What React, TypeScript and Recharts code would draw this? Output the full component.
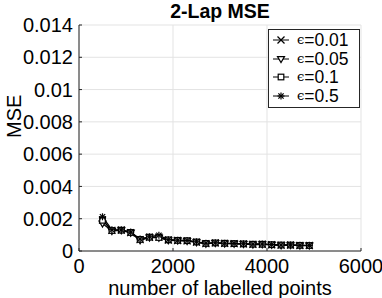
import { CartesianGrid, Line, LineChart, XAxis, YAxis } from 'recharts';

// MSE against the number of labelled points, one series per epsilon.
const sizes = [
  500, 700, 900, 1100, 1300, 1500, 1700, 1900, 2100, 2300, 2500, 2700,
  2900, 3100, 3300, 3500, 3700, 3900, 4100, 4300, 4500, 4700, 4900,
];

const eps001 = [
  0.00192, 0.00128, 0.0013, 0.00114, 0.0007, 0.00085, 0.00086, 0.00068, 0.00065, 0.00063,
  0.00055, 0.00046, 0.0005, 0.00047, 0.00046, 0.00044, 0.00041, 0.00042, 0.00039, 0.00036,
  0.00037, 0.00034, 0.00034,
];
const eps005 = [
  0.0017, 0.00124, 0.00128, 0.00112, 0.00066, 0.00083, 0.00082, 0.00066, 0.00064, 0.00062,
  0.00054, 0.00045, 0.00049, 0.00046, 0.00045, 0.00043, 0.0004, 0.00041, 0.00038, 0.00035,
  0.00036, 0.00033, 0.00033,
];
const eps01 = [
  0.0019, 0.00127, 0.00129, 0.00115, 0.00072, 0.00086, 0.00084, 0.00069, 0.00066, 0.00064,
  0.00056, 0.00047, 0.0005, 0.00048, 0.00046, 0.00044, 0.00042, 0.00042, 0.00039, 0.00037,
  0.00037, 0.00035, 0.00034,
];
const eps05 = [
  0.00212, 0.00132, 0.00131, 0.00117, 0.00074, 0.00088, 0.00098, 0.0007, 0.00067, 0.00065,
  0.00057, 0.00048, 0.00051, 0.00048, 0.00047, 0.00045, 0.00042, 0.00043, 0.0004, 0.00037,
  0.00038, 0.00035, 0.00035,
];

const xTicks = [0, 2000, 4000, 6000];
const yTicks = [0, 0.002, 0.004, 0.006, 0.008, 0.01, 0.012, 0.014];

const data = sizes.map((n, i) => ({
  n,
  e001: eps001[i],
  e005: eps005[i],
  e01: eps01[i],
  e05: eps05[i],
}));

const FONT = '"Liberation Sans", Arial, Helvetica, sans-serif';
const AXIS = '#262626';

type Shape = 'x' | 'tri' | 'sq' | 'star';

function Marker({ cx, cy, shape }: { cx: number; cy: number; shape: Shape }) {
  const r = 3.5;
  const s = { stroke: '#000', strokeWidth: 1.2, fill: 'none' };
  if (shape === 'x')
    return (
      <g {...s}>
        <line x1={cx - r} y1={cy - r} x2={cx + r} y2={cy + r} />
        <line x1={cx - r} y1={cy + r} x2={cx + r} y2={cy - r} />
      </g>
    );
  if (shape === 'tri')
    return (
      <polygon
        {...s}
        fill="#fff"
        points={`${cx - r},${cy - r * 0.7} ${cx + r},${cy - r * 0.7} ${cx},${cy + r}`}
      />
    );
  if (shape === 'sq')
    return <rect {...s} fill="#fff" x={cx - r * 0.8} y={cy - r * 0.8} width={r * 1.6} height={r * 1.6} />;
  return (
    <g {...s}>
      <line x1={cx - r} y1={cy} x2={cx + r} y2={cy} />
      <line x1={cx} y1={cy - r} x2={cx} y2={cy + r} />
      <line x1={cx - r * 0.75} y1={cy - r * 0.75} x2={cx + r * 0.75} y2={cy + r * 0.75} />
      <line x1={cx - r * 0.75} y1={cy + r * 0.75} x2={cx + r * 0.75} y2={cy - r * 0.75} />
    </g>
  );
}

const series: { key: string; name: string; shape: Shape }[] = [
  { key: 'e001', name: '=0.01', shape: 'x' },
  { key: 'e005', name: '=0.05', shape: 'tri' },
  { key: 'e01', name: '=0.1', shape: 'sq' },
  { key: 'e05', name: '=0.5', shape: 'star' },
];

// MATLAB style: labels outside, short tick marks pointing into the plot
function YTick({ x, y, payload }: any) {
  const ax = x + 6;
  return (
    <g>
      <line x1={ax} y1={y} x2={ax + 3} y2={y} stroke={AXIS} />
      <text x={x} y={y} dy="0.36em" textAnchor="end" fill="#000" fontSize={20} fontFamily={FONT}>
        {fmtY(payload.value)}
      </text>
    </g>
  );
}

function XTick({ x, y, payload }: any) {
  const ay = y - 8;
  return (
    <g>
      <line x1={x} y1={ay} x2={x} y2={ay - 3} stroke={AXIS} />
      <text x={x} y={y} dy="0.71em" textAnchor="middle" fill="#000" fontSize={20} fontFamily={FONT}>
        {payload.value}
      </text>
    </g>
  );
}

function LegendBox() {
  return (
    <div
      style={{
        position: 'absolute',
        left: 268,
        top: 29,
        border: `1px solid ${AXIS}`,
        background: '#fff',
        width: 90,
        padding: '1px 0 2px 0',
        fontFamily: FONT,
        fontSize: 17.5,
        lineHeight: '18.5px',
      }}
    >
      {series.map((s) => (
        <div key={s.key} style={{ display: 'flex', alignItems: 'center', height: 18.5 }}>
          <svg width={22} height={18} style={{ marginLeft: 3, marginRight: 3 }}>
            <line x1={1} y1={9} x2={17} y2={9} stroke="#000" strokeWidth={1} />
            <Marker cx={9} cy={9} shape={s.shape} />
          </svg>
          <span style={{ fontFamily: '"DejaVu Serif", serif', fontSize: 13 }}>ϵ</span>
          <span>{s.name}</span>
        </div>
      ))}
    </div>
  );
}

const fmtY = (v: number) => String(Number(v.toFixed(3)));

export default function App() {
  return (
    <div style={{ position: 'absolute', left: 0, top: 0, width: 382, height: 298, background: '#fff' }}>
      <LineChart
        width={382}
        height={298}
        data={data}
        margin={{ top: 25, right: 21, bottom: 0, left: 0 }}
        style={{ fontFamily: FONT }}
      >
        <CartesianGrid stroke="#e3e3e3" strokeWidth={1} />
        <XAxis
          dataKey="n"
          type="number"
          domain={[0, 6000]}
          ticks={xTicks}
          tickLine={false}
          stroke={AXIS}
          tick={<XTick />}
          tickMargin={2}
          label={{ value: 'number of labelled points', position: 'insideBottom', offset: 3, fill: '#000', fontSize: 20 }}
          height={47}
        />
        <YAxis
          type="number"
          domain={[0, 0.014]}
          ticks={yTicks}
          tickLine={false}
          stroke={AXIS}
          tick={<YTick />}
          tickMargin={0}
          width={79}
          label={{ value: 'MSE', angle: -90, position: 'insideLeft', offset: 14, fill: '#000', fontSize: 20 }}
        />
        {series.map((s) => (
          <Line
            key={s.key}
            dataKey={s.key}
            name={s.name}
            stroke="#000"
            strokeWidth={1.2}
            dot={(p: any) => <Marker key={`${s.key}-${p.index}`} cx={p.cx} cy={p.cy} shape={s.shape} />}
            isAnimationActive={false}
          />
        ))}
      </LineChart>
      <div
        style={{
          position: 'absolute',
          left: 79,
          width: 282,
          top: 0,
          textAlign: 'center',
          fontFamily: FONT,
          fontWeight: 'bold',
          fontSize: 19.5,
        }}
      >
        2-Lap MSE
      </div>
      <LegendBox />
    </div>
  );
}
